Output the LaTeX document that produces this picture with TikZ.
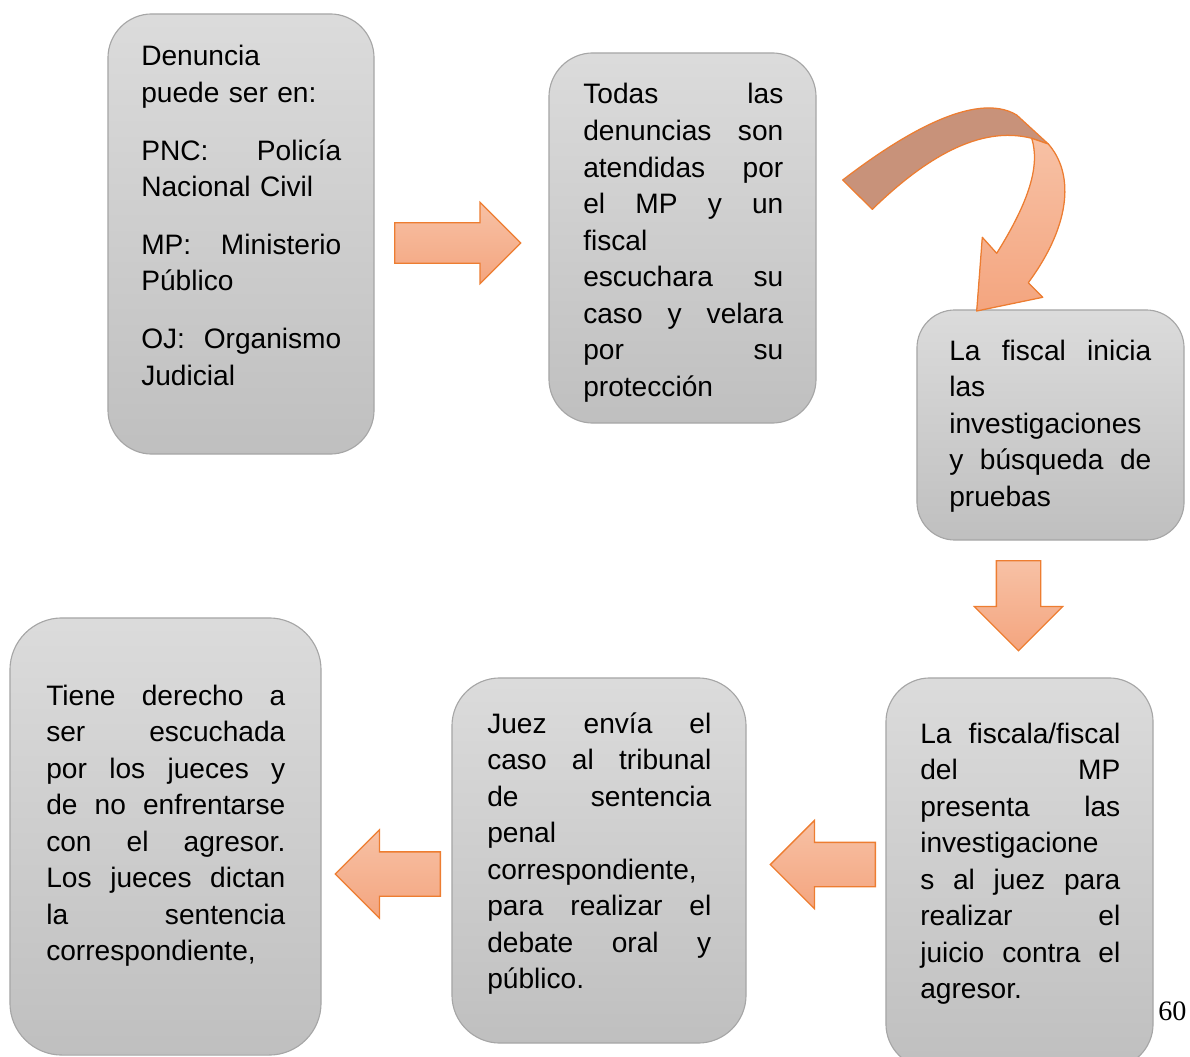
\documentclass[tikz,border=0pt]{standalone}
\usepackage{fontspec}
\setmainfont{Liberation Sans}
\newfontfamily\pagefont{Liberation Serif}
\usepackage{tikz}
\usetikzlibrary{shapes.arrows}

\definecolor{boxline}{HTML}{A6A6A6}
\definecolor{arrowline}{HTML}{ED7D31}
\definecolor{arrowtop}{HTML}{F7C1A5}
\definecolor{arrowbottom}{HTML}{F4A57F}
\definecolor{foldback}{HTML}{C8927A}

\def\colw{5cm}
\newcommand{\jline}[1]{{\spaceskip=0.28em plus 1fil\relax\makebox[\colw][s]{#1}}}

\begin{document}
\begin{tikzpicture}[
        x=0.025cm,y=-0.025cm,
        stepbox/.style={draw=boxline,line width=0.8pt,top color=gray!28,bottom color=gray!50,rounded corners=1.1cm},
        steptext/.style={anchor=base west,inner sep=0pt,align=left,text width=#1,
            execute at begin node={\def\colw{#1}},font=\fontsize{20}{26}\selectfont},
        blockarrow/.style={single arrow,anchor=tail,draw=arrowline,line width=0.9pt,top color=arrowtop,bottom color=arrowbottom,single arrow head indent=0pt},
        foldarrow/.style={draw=arrowline,line width=0.9pt,line join=round}
    ]

    \useasboundingbox (0,0) rectangle (1190,1057);

    \node[stepbox,minimum width=6.65cm,minimum height=11cm] (denuncia) at (241,234) {};
    \node[stepbox,minimum width=6.675cm,minimum height=9.25cm] (todas) at (682.5,238) {};
    \node[stepbox,rounded corners=0.95cm,minimum width=6.675cm,minimum height=5.75cm] (inicia) at (1050.5,425) {};
    \node[stepbox,minimum width=6.675cm,minimum height=9.75cm] (presenta) at (1019.5,873) {};
    \node[stepbox,rounded corners=1.2cm,minimum width=7.35cm,minimum height=9.125cm] (envia) at (599,860.5) {};
    \node[stepbox,rounded corners=1.3cm,minimum width=7.775cm,minimum height=10.925cm] (derecho) at (165.5,836.5) {};

    \node[steptext=5cm] (denunciatext) at (141,66) {Denuncia\\
        puede ser en:\\[15pt]\jline{PNC: Policía}\\
        Nacional Civil\\[15pt]\jline{MP: Ministerio}\\
        Público\\[15pt]\jline{OJ: Organismo}\\
        Judicial};

    \node[steptext=5cm] (todastext) at (583,104) {\jline{Todas las}\\
        \jline{denuncias son}\\
        \jline{atendidas por}\\
        \jline{el MP y un}\\
        fiscal\\
        \jline{escuchara su}\\
        \jline{caso y velara}\\
        \jline{por su}\\
        protección};

    \node[steptext=5.05cm] (iniciatext) at (949,360) {\jline{La fiscal inicia}\\
        las\\
        investigaciones\\
        \jline{y búsqueda de}\\
        pruebas};

    \node[steptext=5cm] (presentatext) at (920,743) {\jline{La fiscala/fiscal}\\
        \jline{del MP}\\
        \jline{presenta las}\\
        investigacione\\
        \jline{s al juez para}\\
        \jline{realizar el}\\
        \jline{juicio contra el}\\
        agresor.};

    \node[steptext=5.6cm] (enviatext) at (487,733) {\jline{Juez envía el}\\
        \jline{caso al tribunal}\\
        \jline{de sentencia}\\
        penal\\
        correspondiente,\\
        \jline{para realizar el}\\
        \jline{debate oral y}\\
        público.};

    \node[steptext=5.975cm] (derechotext) at (46,705) {\jline{Tiene derecho a}\\
        \jline{ser escuchada}\\
        \jline{por los jueces y}\\
        \jline{de no enfrentarse}\\
        \jline{con el agresor.}\\
        \jline{Los jueces dictan}\\
        \jline{la sentencia}\\
        correspondiente,};

    \node[blockarrow,inner sep=0.4875cm,minimum height=3.15cm,minimum width=2cm,single arrow head extend=0.5125cm] (arrowa) at (394,243) {};
    \node[blockarrow,shape border rotate=270,inner sep=0.5375cm,minimum height=2.25cm,minimum width=2.175cm,single arrow head extend=0.55cm] (arrowb) at (1018.5,560) {};
    \node[blockarrow,shape border rotate=180,inner sep=0.5375cm,minimum height=2.625cm,minimum width=2.175cm,single arrow head extend=0.55cm] (arrowc) at (876,864.5) {};
    \node[blockarrow,shape border rotate=180,inner sep=0.5375cm,minimum height=2.625cm,minimum width=2.15cm,single arrow head extend=0.55cm] (arrowd) at (441,874) {};

    \filldraw[foldarrow,fill=foldback] (842.7,180) .. controls (900,136) and (975,90) .. (1016.7,115)
        -- (1048.3,144) -- (1031.7,138.3) .. controls (980,125) and (925,158) .. (872.3,209.3) -- cycle;
    \filldraw[foldarrow,top color=arrowtop,bottom color=arrowbottom] (1031.7,138.3) -- (1048.3,144)
        .. controls (1073,172) and (1073,222) .. (1028.3,282.7) -- (1042.7,297.3) -- (976.7,311)
        -- (982.3,237.3) -- (996.7,253.3) .. controls (1030,200) and (1040,165) .. (1031.7,138.3) -- cycle;

    \node[anchor=base west,inner sep=0pt,font=\pagefont\fontsize{20}{24}\selectfont] (pagenum) at (1158,1020) {60};

\end{tikzpicture}
\end{document}
